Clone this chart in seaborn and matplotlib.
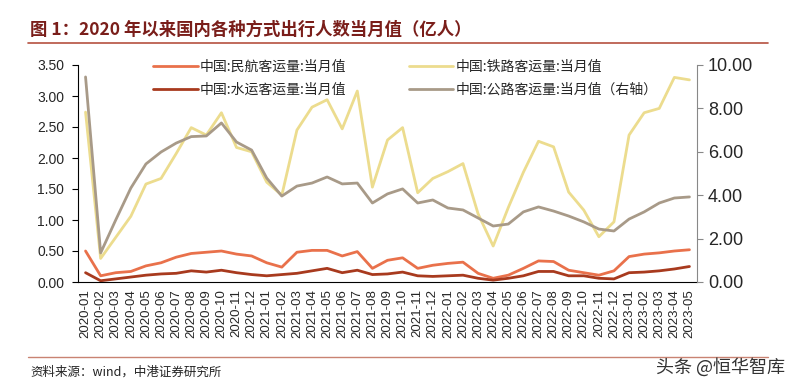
import numpy as np
import pandas as pd
import matplotlib
matplotlib.use("Agg")
import matplotlib.pyplot as plt
import seaborn as sns

# monthly categories 2020-01 .. 2023-05
months = [f"{y}-{m:02d}" for y in (2020, 2021, 2022, 2023) for m in range(1, 13)][:41]

# 亿人
aviation = [0.50, 0.10, 0.15, 0.17, 0.26, 0.31, 0.40, 0.46, 0.48, 0.50, 0.45, 0.42,
            0.31, 0.24, 0.48, 0.51, 0.51, 0.42, 0.49, 0.22, 0.35, 0.39, 0.22, 0.27,
            0.30, 0.32, 0.14, 0.06, 0.11, 0.22, 0.34, 0.33, 0.19, 0.15, 0.11, 0.18,
            0.41, 0.45, 0.47, 0.50, 0.52]
railway = [2.74, 0.38, 0.72, 1.06, 1.58, 1.67, 2.07, 2.49, 2.37, 2.73, 2.17, 2.10,
           1.61, 1.40, 2.45, 2.82, 2.94, 2.47, 3.08, 1.53, 2.29, 2.49, 1.44, 1.67,
           1.78, 1.91, 1.10, 0.58, 1.20, 1.77, 2.27, 2.18, 1.45, 1.16, 0.73, 0.97,
           2.37, 2.73, 2.80, 3.30, 3.26]
water = [0.15, 0.02, 0.05, 0.08, 0.11, 0.13, 0.14, 0.18, 0.16, 0.19, 0.15, 0.12,
         0.10, 0.12, 0.14, 0.18, 0.22, 0.15, 0.19, 0.12, 0.13, 0.16, 0.10, 0.09,
         0.10, 0.11, 0.06, 0.03, 0.06, 0.10, 0.17, 0.17, 0.10, 0.10, 0.06, 0.05,
         0.15, 0.16, 0.18, 0.21, 0.25]
road = [9.45, 1.34, 2.86, 4.33, 5.44, 5.99, 6.40, 6.70, 6.73, 7.33, 6.45, 6.08,
        4.79, 3.96, 4.42, 4.56, 4.84, 4.52, 4.56, 3.64, 4.06, 4.29, 3.64, 3.78,
        3.41, 3.32, 2.95, 2.58, 2.67, 3.23, 3.46, 3.27, 3.04, 2.77, 2.44, 2.35,
        2.90, 3.23, 3.64, 3.87, 3.92]

labels = ["中国:民航客运量:当月值", "中国:铁路客运量:当月值",
          "中国:水运客运量:当月值", "中国:公路客运量:当月值（右轴）"]
colors = ["#E9714B", "#ECDC8E", "#A83A1E", "#A89A88"]

df = pd.DataFrame({"month": months, "aviation": aviation, "railway": railway,
                   "water": water, "road": road})

sns.set_style("white")
plt.rcParams["font.family"] = ["Liberation Sans", "Noto Sans CJK SC", "DejaVu Sans"]

fig = plt.figure(figsize=(7.89, 3.88), dpi=100)
ax = fig.add_axes([78 / 789, 1 - 282 / 388, (697 - 78) / 789, (282 - 65) / 388])
ax2 = ax.twinx()

lw = 2.0
sns.lineplot(data=df, x="month", y="railway", ax=ax, color=colors[1], lw=lw, label=labels[1])
sns.lineplot(data=df, x="month", y="aviation", ax=ax, color=colors[0], lw=lw, label=labels[0])
sns.lineplot(data=df, x="month", y="water", ax=ax, color=colors[2], lw=lw, label=labels[2])
sns.lineplot(data=df, x="month", y="road", ax=ax2, color=colors[3], lw=lw, label=labels[3])

ax.set_ylim(0, 3.5)
ax.set_yticks(np.arange(0, 3.51, 0.5))
ax.set_yticklabels([f"{v:.2f}" for v in np.arange(0, 3.51, 0.5)], fontsize=10)
ax2.set_ylim(0, 10)
ax2.set_yticks(np.arange(0, 10.1, 2))
ax2.set_yticklabels([f"{v:.2f}" for v in np.arange(0, 10.1, 2)], fontsize=13)
ax.set_xlim(-0.5, len(months) - 0.5)

ax.set_xticks(range(len(months)))
ax.set_xticklabels(months, rotation=90, fontsize=9.5)
ax.set_xticks(np.arange(0.5, len(months) - 0.5, 1), minor=True)
ax.tick_params(axis="x", which="major", length=0, pad=5)
ax.tick_params(axis="x", which="minor", length=4, width=0.8, color="black", direction="out")
ax.tick_params(axis="y", length=4, width=0.8, color="black", direction="out", pad=6)
ax2.tick_params(axis="y", length=4, width=0.8, color="#888888", direction="out", pad=4)

ax.set_xlabel("")
ax.set_ylabel("")
ax2.set_ylabel("")
for a in (ax, ax2):
    a.spines["top"].set_visible(False)
ax.spines["right"].set_visible(False)
ax.spines["left"].set_color("black")
ax.spines["bottom"].set_color("black")
ax2.spines["left"].set_visible(False)
ax2.spines["bottom"].set_visible(False)
ax2.spines["right"].set_color("#888888")

ax.get_legend().remove()
ax2.get_legend().remove()
h1, l1 = ax.get_legend_handles_labels()
h2, l2 = ax2.get_legend_handles_labels()
hmap = dict(zip(l1 + l2, h1 + h2))
order = [labels[0], labels[2], labels[1], labels[3]]
ax.legend([hmap[k] for k in order], order, ncol=2, loc="upper center",
          bbox_to_anchor=(0.529, 1.08), frameon=False,
          handlelength=3.2, handletextpad=0.15, columnspacing=4.5, labelspacing=0.65,
          prop={"family": ["Noto Sans CJK SC"], "size": 10})

# header and footer
fig.text(30 / 789, 1 - 30 / 388, "图 1：2020 年以来国内各种方式出行人数当月值（亿人）",
         fontsize=12.5, fontweight="bold", color="#7A1E1A", va="center",
         family=["Noto Sans CJK SC", "DejaVu Sans"])
fig.add_artist(plt.Line2D([28 / 789, 768 / 789], [1 - 43 / 388, 1 - 43 / 388],
                          color="#B5503F", lw=1.2))
fig.add_artist(plt.Line2D([28 / 789, 768 / 789], [1 - 357 / 388, 1 - 357 / 388],
                          color="#C98372", lw=1.0))
fig.text(30 / 789, 1 - 372 / 388, "资料来源：wind，中港证券研究所", fontsize=9,
         style="italic", color="#222222", va="center",
         family=["Noto Sans CJK SC", "DejaVu Sans"])
fig.text(785 / 789, 1 - 367 / 388, "头条 @恒华智库", fontsize=13, color="#333333",
         ha="right", va="center", family=["Noto Sans CJK SC", "DejaVu Sans"])

fig.savefig("out.png", dpi=100)
